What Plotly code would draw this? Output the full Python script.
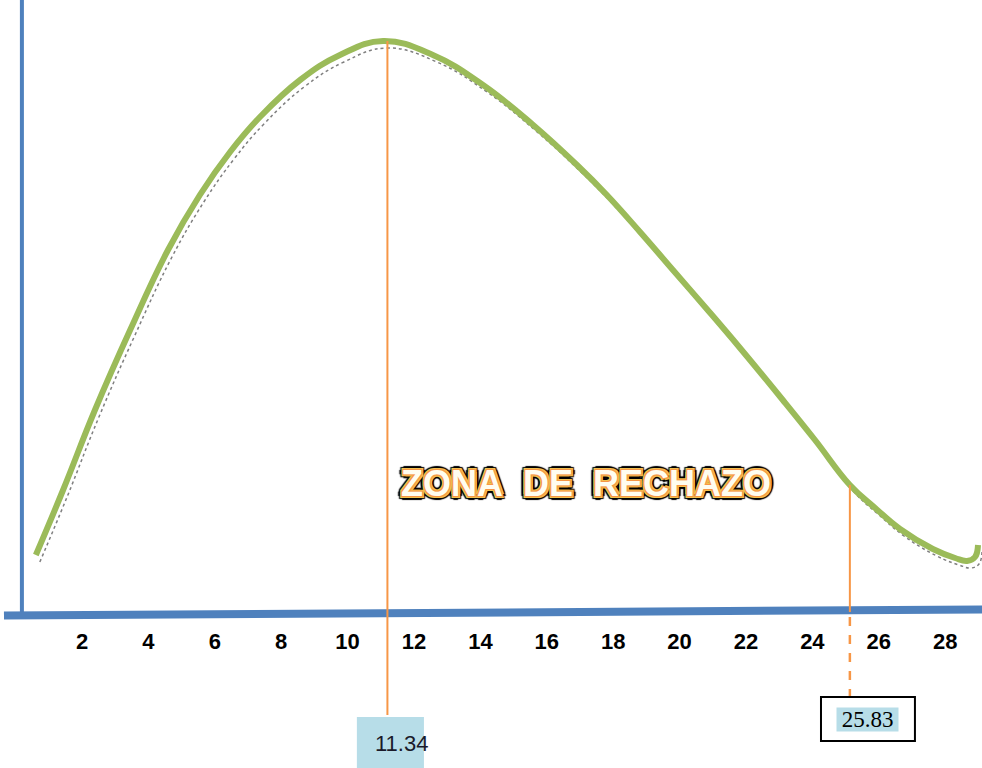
import plotly.graph_objects as go

# ---- data ----
curve_x = [0.61, 1.43, 2.39, 3.45, 4.59, 5.55, 6.46, 7.36, 8.57, 9.77, 11.07, 12.57, 14.08,
           15.59, 16.91, 17.81, 18.81, 19.80, 20.82, 21.82, 23.11, 24.08, 25.13, 25.89,
           26.64, 27.63, 28.30, 28.66, 28.90, 28.99]
curve_y = [5.7, 12.2, 20.2, 28.2, 36.2, 41.7, 46.0, 49.5, 53.2, 55.7, 57.1, 55.7, 52.7,
           48.7, 44.7, 41.7, 38.0, 34.2, 30.3, 26.4, 21.2, 17.2, 12.7, 10.4,
           8.3, 6.3, 5.4, 5.1, 5.5, 6.7]

tick_values = [2, 4, 6, 8, 10, 12, 14, 16, 18, 20, 22, 24, 26, 28]
tick_labels = [str(v) for v in tick_values]

mean_label = "11.34"
mean_position = 11.2
mean_height = 57.1
critical_label = "25.83"
critical_position = 25.13
critical_height = 12.7
zone_label = "ZONA\u00a0\u00a0DE\u00a0\u00a0RECHAZO"

BLUE = "#4f81bd"
GREEN = "#9bbb59"
ORANGE = "#f79646"
LIGHTBLUE = "#b7dde8"
SANS = "Liberation Sans, Arial, sans-serif"

fig = go.Figure()

# dotted shadow under the curve
fig.add_trace(go.Scatter(
    x=[v + 0.12 for v in curve_x], y=[v - 0.7 for v in curve_y],
    mode="lines", line=dict(color="rgba(0,0,0,0.5)", width=1.5, dash="dot", shape="spline", smoothing=1.2),
    hoverinfo="skip", showlegend=False))

fig.add_trace(go.Scatter(
    x=curve_x, y=curve_y, mode="lines",
    line=dict(color=GREEN, width=6, shape="spline", smoothing=1.2),
    showlegend=False))

shapes = [
    # vertical axis
    dict(type="line", xref="x", yref="y", x0=0.19, x1=0.19, y0=0, y1=61.2,
         line=dict(color=BLUE, width=4)),
    # horizontal axis bar
    dict(type="line", xref="x", yref="y", x0=-0.35, x1=29.2, y0=-0.35, y1=0.25,
         line=dict(color=BLUE, width=8)),
    # mean line
    dict(type="line", xref="x", yref="y", x0=mean_position, x1=mean_position, y0=-10.3, y1=mean_height,
         line=dict(color=ORANGE, width=2)),
    # critical line (solid above axis)
    dict(type="line", xref="x", yref="y", x0=critical_position, x1=critical_position, y0=0, y1=critical_height,
         line=dict(color=ORANGE, width=2)),
    # critical line (dashed below axis)
    dict(type="line", xref="x", yref="y", x0=critical_position, x1=critical_position, y0=-0.5, y1=-8.5,
         line=dict(color=ORANGE, width=2.5, dash="dash")),
    # mean label box
    dict(type="rect", xref="x", yref="y", x0=10.28, x1=12.30, y0=-10.5, y1=-15.7,
         fillcolor=LIGHTBLUE, line=dict(width=0), layer="below"),
    # critical label box
    dict(type="rect", xref="x", yref="y", x0=24.26, x1=27.09, y0=-8.5, y1=-12.9,
         fillcolor="white", line=dict(color="black", width=2)),
]

zone_shadow = ", ".join(
    [f"{dx}px {dy}px 0 {ORANGE}" for dx, dy in [(1, 1), (-1, 1), (1, -1), (-1, -1)]]
    + [f"{dx}px {dy}px 0 #f2c14e" for dx, dy in [(2, 2), (-2, 2), (2, -2), (-2, -2)]]
    + [f"{dx}px {dy}px 1px #000" for dx, dy in [(3, 3), (-3, 3), (3, -3), (-3, -3), (0, 4), (4, 0), (0, -4), (-4, 0)]]
)

annotations = [
    dict(x=11.61, y=-13.1, xref="x", yref="y", text=mean_label, showarrow=False,
         font=dict(family=SANS, size=22, color="#1a1a2a")),
    dict(x=25.67, y=-10.75, xref="x", yref="y", text=critical_label, showarrow=False,
         font=dict(family="Liberation Serif, Times New Roman, serif", size=23, color="black"),
         bgcolor=LIGHTBLUE, width=61, height=23, borderpad=0),
    dict(x=17.18, y=12.9, xref="x", yref="y", text=zone_label, showarrow=False,
         font=dict(family=SANS, size=36, color="#fffdf0", weight="bold", shadow=zone_shadow)),
]

fig.update_layout(
    width=982, height=768,
    margin=dict(l=0, r=0, t=0, b=0),
    paper_bgcolor="white", plot_bgcolor="white",
    shapes=shapes, annotations=annotations,
    xaxis=dict(range=[-0.47, 29.11], tickvals=tick_values, ticktext=tick_labels,
               showgrid=False, zeroline=False, showline=False, ticks="",
               anchor="free", position=156 / 768, ticklabelstandoff=14,
               tickfont=dict(family=SANS, size=22, color="black", weight="bold")),
    yaxis=dict(range=[-15.6, 61.2], visible=False, showgrid=False, zeroline=False),
)

fig.write_html("out.html", config={"displayModeBar": False},
               post_script="document.body.style.margin='0';document.body.style.overflow='hidden';")
